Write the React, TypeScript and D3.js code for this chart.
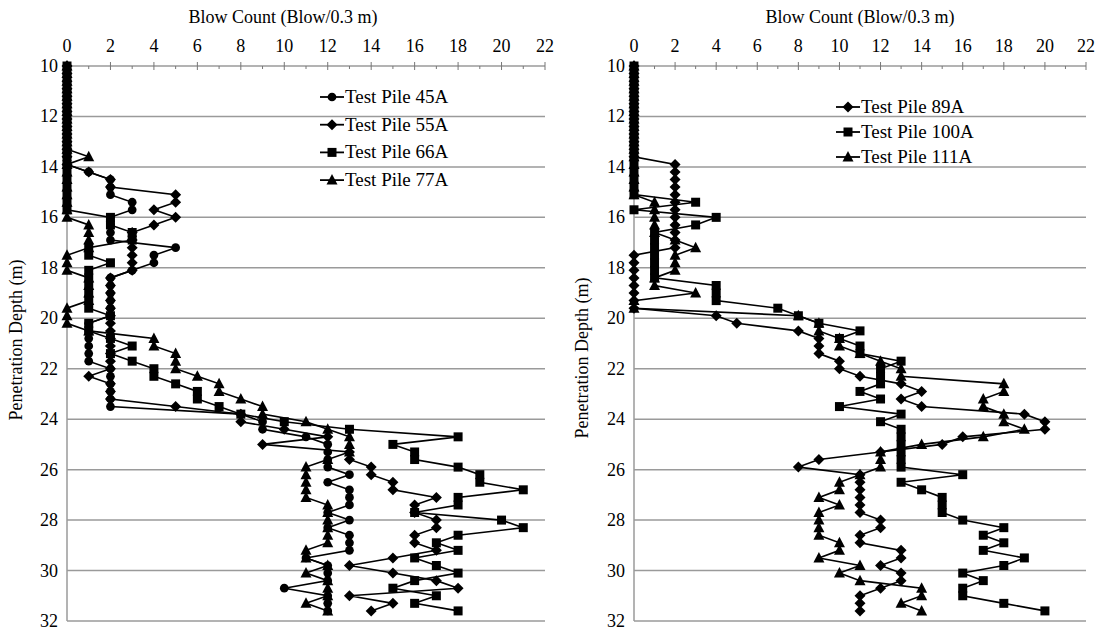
import React, { useEffect, useRef } from "react";
import * as d3 from "d3";

// penetration depth (m) of each reading, shared by all piles
const depths = [
  10.0, 10.3, 10.6, 10.9, 11.2, 11.5, 11.8, 12.1, 12.4, 12.7, 13.0, 13.3, 13.6,
  13.9, 14.2, 14.5, 14.8, 15.1, 15.4, 15.7, 16.0, 16.3, 16.6, 16.9, 17.2, 17.5,
  17.8, 18.1, 18.4, 18.7, 19.0, 19.3, 19.6, 19.9, 20.2, 20.5, 20.8, 21.1, 21.4,
  21.7, 22.0, 22.3, 22.6, 22.9, 23.2, 23.5, 23.8, 24.1, 24.4, 24.7, 25.0, 25.3,
  25.6, 25.9, 26.2, 26.5, 26.8, 27.1, 27.4, 27.7, 28.0, 28.3, 28.6, 28.9, 29.2,
  29.5, 29.8, 30.1, 30.4, 30.7, 31.0, 31.3, 31.6,
];

// blow counts, left panel
const pile45A = [
  0, 0, 0, 0, 0, 0, 0, 0, 0, 0, 0, 0, 0, 0, 1, 2, 2, 2, 3, 3, 2, 2, 2, 2, 5, 4,
  4, 3, 2, 2, 2, 2, 2, 2, 1, 1, 1, 1, 1, 1, 2, 2, 2, 2, 2, 2, 8, 9, 9, 11, 12,
  12, 12, 12, 13, 12, 13, 13, 13, 12, 13, 12, 13, 13, 13, 11, 12, 12, 12, 10,
  12, 12, 12,
];
const pile55A = [
  0, 0, 0, 0, 0, 0, 0, 0, 0, 0, 0, 0, 0, 0, 1, 2, 2, 5, 5, 4, 5, 4, 3, 3, 3, 3,
  3, 3, 2, 2, 2, 2, 2, 2, 2, 2, 2, 2, 2, 2, 2, 1, 2, 2, 2, 5, 8, 8, 10, 12, 9,
  13, 13, 14, 14, 15, 15, 17, 16, 16, 17, 17, 16, 16, 17, 15, 13, 15, 17, 18,
  13, 15, 14,
];
const pile66A = [
  0, 0, 0, 0, 0, 0, 0, 0, 0, 0, 0, 0, 0, 0, 0, 0, 0, 0, 0, 0, 2, 2, 3, 3, 1, 1,
  2, 1, 1, 1, 1, 1, 1, 2, 1, 1, 2, 3, 2, 3, 4, 4, 5, 6, 6, 7, 8, 10, 13, 18, 15,
  16, 16, 18, 19, 19, 21, 18, 18, 16, 20, 21, 18, 17, 18, 16, 17, 18, 16, 15,
  17, 16, 18,
];
const pile77A = [
  0, 0, 0, 0, 0, 0, 0, 0, 0, 0, 0, 0, 1, 0, 0, 0, 0, 0, 0, 0, 0, 1, 1, 1, 1, 0,
  0, 0, 1, 1, 1, 1, 0, 0, 0, 1, 4, 4, 5, 5, 5, 6, 7, 7, 8, 9, 9, 11, 12, 13, 13,
  13, 12, 11, 11, 11, 11, 11, 12, 12, 12, 12, 12, 12, 11, 11, 12, 11, 12, 12,
  12, 11, 12,
];

// blow counts, right panel
const pile89A = [
  0, 0, 0, 0, 0, 0, 0, 0, 0, 0, 0, 0, 0, 2, 2, 2, 2, 2, 2, 2, 2, 2, 2, 2, 2, 0,
  0, 0, 0, 0, 0, 0, 0, 4, 5, 8, 9, 9, 9, 10, 10, 11, 13, 14, 13, 14, 19, 20, 20,
  16, 15, 12, 9, 8, 11, 11, 11, 11, 11, 11, 12, 12, 11, 11, 13, 13, 12, 13, 13,
  12, 11, 11, 11,
];
const pile100A = [
  0, 0, 0, 0, 0, 0, 0, 0, 0, 0, 0, 0, 0, 0, 0, 0, 0, 0, 3, 0, 4, 3, 1, 1, 1, 1,
  1, 1, 1, 4, 4, 4, 7, 8, 9, 11, 10, 11, 11, 13, 12, 12, 12, 11, 12, 10, 13, 12,
  13, 13, 13, 13, 13, 13, 16, 13, 14, 15, 15, 15, 16, 18, 17, 18, 17, 19, 18,
  16, 17, 16, 16, 18, 20,
];
const pile111A = [
  0, 0, 0, 0, 0, 0, 0, 0, 0, 0, 0, 0, 0, 0, 0, 0, 0, 0, 1, 1, 1, 1, 1, 2, 3, 2,
  2, 2, 1, 1, 3, 0, 0, 8, 9, 9, 10, 10, 11, 12, 13, 13, 18, 18, 17, 17, 18, 18,
  19, 17, 14, 12, 12, 12, 11, 10, 10, 9, 10, 9, 9, 9, 9, 10, 10, 9, 11, 10, 11,
  14, 14, 13, 14,
];

const xTicks = [0, 2, 4, 6, 8, 10, 12, 14, 16, 18, 20, 22];
const xMinorTicks = [1, 3, 5, 7, 9, 11, 13, 15, 17, 19, 21];
const yTicks = [10, 12, 14, 16, 18, 20, 22, 24, 26, 28, 30, 32];

const leftSeries = [
  { name: "Test Pile 45A", values: pile45A, marker: "circle" },
  { name: "Test Pile 55A", values: pile55A, marker: "diamond" },
  { name: "Test Pile 66A", values: pile66A, marker: "square" },
  { name: "Test Pile 77A", values: pile77A, marker: "triangle" },
];
const rightSeries = [
  { name: "Test Pile 89A", values: pile89A, marker: "diamond" },
  { name: "Test Pile 100A", values: pile100A, marker: "square" },
  { name: "Test Pile 111A", values: pile111A, marker: "triangle" },
];

const FONT = "'Liberation Serif', 'Times New Roman', serif";

function markerPath(type) {
  if (type === "circle") return d3.symbol(d3.symbolCircle, 60)();
  if (type === "square") return "M-4.5,-4.5L4.5,-4.5L4.5,4.5L-4.5,4.5Z";
  if (type === "diamond") return "M0,-5.5L5.5,0L0,5.5L-5.5,0Z";
  return "M0,-6L5.5,4.5L-5.5,4.5Z";
}

function drawPanel(svg, series, opts) {
  const x = d3.scaleLinear().domain([0, 22]).range(opts.xRange);
  const y = d3.scaleLinear().domain([10, 32]).range([66, 621]);
  const g = svg.append("g");

  // horizontal grid
  g.selectAll(".grid")
    .data(yTicks)
    .join("line")
    .attr("x1", x(0))
    .attr("x2", x(22))
    .attr("y1", (d) => y(d))
    .attr("y2", (d) => y(d))
    .attr("stroke", "#9a9a9a")
    .attr("stroke-width", 1.5);

  // vertical axis line
  g.append("line")
    .attr("x1", x(0))
    .attr("x2", x(0))
    .attr("y1", y(10))
    .attr("y2", y(32))
    .attr("stroke", "#9a9a9a")
    .attr("stroke-width", 1.5);

  // top axis ticks
  g.selectAll(".major")
    .data(xTicks)
    .join("line")
    .attr("x1", (d) => x(d))
    .attr("x2", (d) => x(d))
    .attr("y1", y(10) - 4)
    .attr("y2", y(10) + 4)
    .attr("stroke", "#777")
    .attr("stroke-width", 1);
  g.selectAll(".minor")
    .data(xMinorTicks)
    .join("line")
    .attr("x1", (d) => x(d))
    .attr("x2", (d) => x(d))
    .attr("y1", y(10))
    .attr("y2", y(10) + 3)
    .attr("stroke", "#777")
    .attr("stroke-width", 1);

  g.selectAll(".xlab")
    .data(xTicks)
    .join("text")
    .attr("x", (d) => x(d))
    .attr("y", 52)
    .attr("text-anchor", "middle")
    .style("font-family", FONT)
    .style("font-size", "18px")
    .text((d) => d);

  g.selectAll(".ylab")
    .data(yTicks)
    .join("text")
    .attr("x", x(0) - 9)
    .attr("y", (d) => y(d) + 6)
    .attr("text-anchor", "end")
    .style("font-family", FONT)
    .style("font-size", "18px")
    .text((d) => d);

  g.append("text")
    .attr("x", opts.titleX)
    .attr("y", 23)
    .attr("text-anchor", "middle")
    .style("font-family", FONT)
    .style("font-size", "18px")
    .text("Blow Count (Blow/0.3 m)");

  g.append("text")
    .attr("transform", `translate(${opts.yLabelX},${opts.yLabelY}) rotate(-90)`)
    .attr("text-anchor", "middle")
    .style("font-family", FONT)
    .style("font-size", "18px")
    .text(opts.yLabel);

  const line = d3
    .line()
    .x((d) => x(d[1]))
    .y((d) => y(d[0]));

  series.forEach((s) => {
    const pts = s.values.map((v, i) => [depths[i], v]);
    g.append("path")
      .datum(pts)
      .attr("d", line)
      .attr("fill", "none")
      .attr("stroke", "#000")
      .attr("stroke-width", 1.6);
    g.append("g")
      .selectAll("path")
      .data(pts)
      .join("path")
      .attr("transform", (d) => `translate(${x(d[1])},${y(d[0])})`)
      .attr("d", markerPath(s.marker))
      .attr("fill", "#000");
  });

  // legend
  const lg = g
    .append("g")
    .attr("transform", `translate(${opts.legendX},${opts.legendY})`);
  series.forEach((s, i) => {
    const row = lg
      .append("g")
      .attr("transform", `translate(0,${i * opts.legendStep})`);
    row.append("line")
      .attr("x1", 0)
      .attr("x2", 24)
      .attr("stroke", "#000")
      .attr("stroke-width", 1.8);
    row.append("path")
      .attr("transform", "translate(12,0)")
      .attr("d", markerPath(s.marker))
      .attr("fill", "#000");
    row.append("text")
      .attr("x", 25)
      .attr("y", 6)
      .style("font-family", FONT)
      .style("font-size", "19px")
      .text(s.name);
  });
}

function App() {
  const svgRef = useRef(null);
  const width = 1107;
  const height = 634;

  useEffect(() => {
    const svg = d3.select(svgRef.current);
    svg.selectAll("*").remove();

    drawPanel(svg, leftSeries, {
      xRange: [67, 545],
      titleX: 283,
      yLabel: "Penetration Depth (m)",
      yLabelX: 22,
      yLabelY: 340,
      legendX: 320,
      legendY: 97,
      legendStep: 27.7,
    });
    drawPanel(svg, rightSeries, {
      xRange: [634, 1086],
      titleX: 860,
      yLabel: "Penetration  Depth (m)",
      yLabelX: 588,
      yLabelY: 358,
      legendX: 836,
      legendY: 107,
      legendStep: 25,
    });
  }, []);

  return (
    <svg
      ref={svgRef}
      width={width}
      height={height}
      style={{ position: "absolute", left: 0, top: 0, background: "#fff" }}
    ></svg>
  );
}

export default App;
